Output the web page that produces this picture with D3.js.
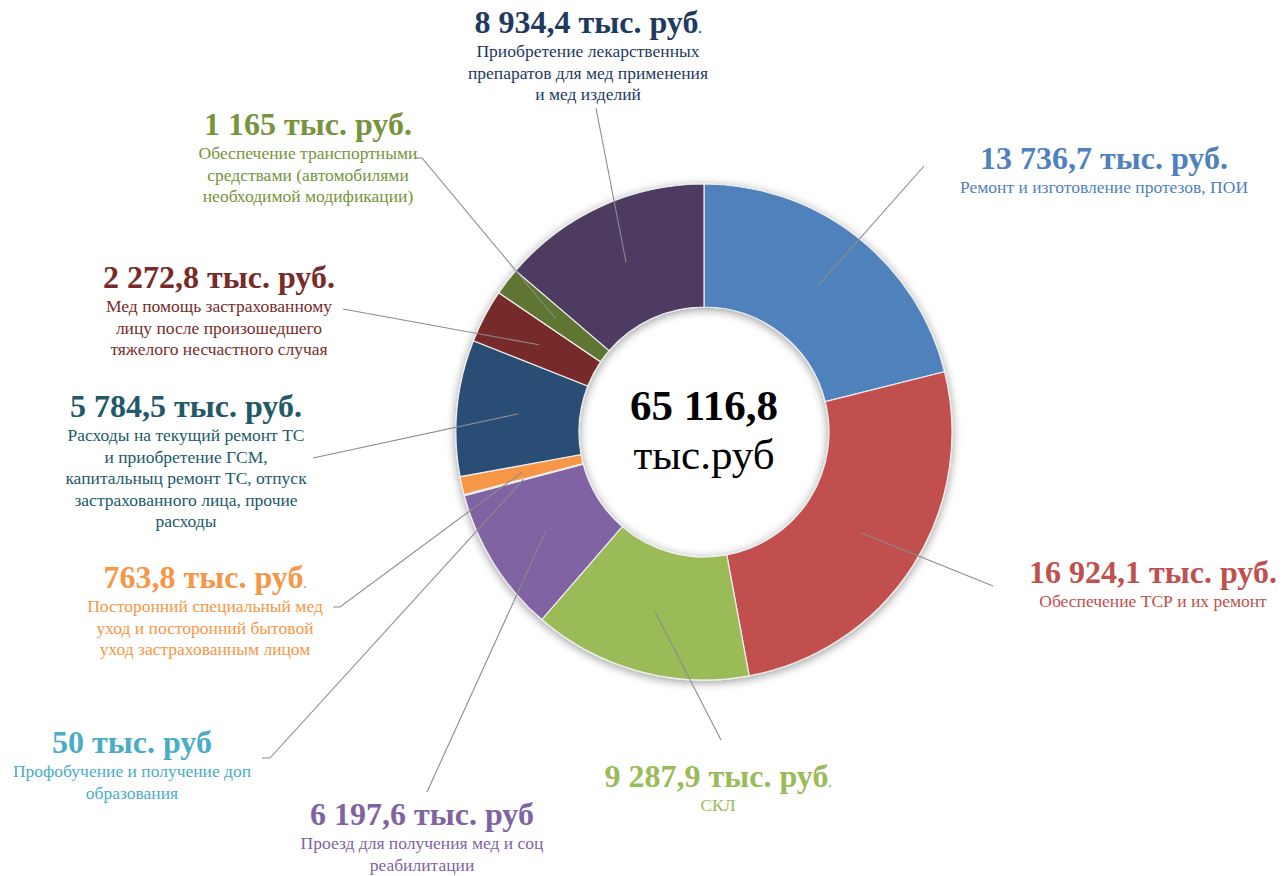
<!DOCTYPE html>
<html>
<head>
<meta charset="utf-8">
<script src="https://cdn.jsdelivr.net/npm/d3@7"></script>
<style>
  body { margin: 0; background: #fff; }
  svg { display: block; }
  svg text { font-family: "Liberation Serif", "DejaVu Serif", serif; }
</style>
</head>
<body>
<div id="chart"></div>
<script>
// slices, clockwise from 12 o'clock
const values = [13736.7, 16924.1, 9287.9, 6197.6, 50, 763.8, 5784.5, 2272.8, 1165, 8934.4];
const valueLabels = ["13 736,7 тыс. руб.", "16 924,1 тыс. руб.", "9 287,9 тыс. руб", "6 197,6 тыс. руб",
  "50 тыс. руб", "763,8 тыс. руб", "5 784,5 тыс. руб.", "2 272,8 тыс. руб.", "1 165 тыс. руб.", "8 934,4 тыс. руб"];
// small trailing dot on some of the value labels
const smallDot = [false, false, true, false, false, true, false, false, false, true];
const categories = [
  ["Ремонт и изготовление протезов, ПОИ"],
  ["Обеспечение ТСР и их ремонт"],
  ["СКЛ"],
  ["Проезд для получения мед и соц", "реабилитации"],
  ["Профобучение и получение доп", "образования"],
  ["Посторонний специальный мед", "уход и посторонний бытовой", "уход застрахованным лицом"],
  ["Расходы на текущий ремонт ТС", "и приобретение ГСМ,", "капитальныц ремонт ТС, отпуск", "застрахованного лица, прочие", "расходы"],
  ["Мед помощь застрахованному", "лицу после произошедшего", "тяжелого несчастного случая"],
  ["Обеспечение транспортными", "средствами (автомобилями", "необходимой модификации)"],
  ["Приобретение лекарственных", "препаратов для мед применения", "и мед изделий"]
];
const totalLabel = "65 116,8";
const unitLabel = "тыс.руб";

const sliceColors = ["#4F81BD", "#C0504D", "#9BBB59", "#8064A2", "#4BACC6", "#F79646", "#2C4D75", "#772C2A", "#5F7530", "#4D3B62"];
const textColors = ["#4F81BD", "#C0504D", "#9BBB59", "#8064A2", "#4BACC6", "#F79646", "#215967", "#772C2A", "#77933C", "#1F3A5F"];

// label layout: centre x, value baseline y, leader end points
const labelPos = [
  {x: 1104, y: 169, line: [[924, 166]]},
  {x: 1153, y: 583, line: [[993, 586]]},
  {x: 718, y: 787, line: [[721, 740]]},
  {x: 422, y: 825, line: [[427, 792]]},
  {x: 132, y: 753, line: [[270, 758], [262, 758]]},
  {x: 205, y: 588, line: [[340, 607], [333, 607]]},
  {x: 186, y: 417, line: [[313, 458]]},
  {x: 219, y: 288, line: [[343, 309]]},
  {x: 308, y: 135, line: [[422, 158], [415, 158]]},
  {x: 588, y: 33, line: [[596, 108]]}
];

const W = 1288, H = 876;
const cx = 704, cy = 432, R = 248, r = 125;

const svg = d3.select("#chart").append("svg")
  .attr("width", W).attr("height", H);

const defs = svg.append("defs");
const f = defs.append("filter").attr("id", "shadow")
  .attr("x", "-20%").attr("y", "-20%").attr("width", "140%").attr("height", "140%");
f.append("feDropShadow").attr("dx", 0).attr("dy", 2).attr("stdDeviation", 5)
  .attr("flood-color", "#000").attr("flood-opacity", 0.4);

const pie = d3.pie().sort(null).value(d => d);
const arcs = pie(values);
const arc = d3.arc().innerRadius(r).outerRadius(R);

const g = svg.append("g").attr("transform", `translate(${cx},${cy})`);

g.append("g").attr("filter", "url(#shadow)")
  .selectAll("path")
  .data(arcs)
  .enter()
  .append("path")
  .attr("d", arc)
  .attr("fill", (d, i) => sliceColors[i])
  .attr("stroke", "#eeeeee")
  .attr("stroke-width", 1.2);

// leader lines
const line = d3.line();
svg.append("g")
  .selectAll("path")
  .data(arcs)
  .enter()
  .append("path")
  .attr("d", (d, i) => {
    const c = arc.centroid(d);
    return line([[cx + c[0], cy + c[1]]].concat(labelPos[i].line));
  })
  .attr("fill", "none")
  .attr("stroke", "#8c8c8c")
  .attr("stroke-width", 1.1);

// labels
const labels = svg.append("g")
  .selectAll("g")
  .data(arcs)
  .enter()
  .append("g")
  .attr("transform", (d, i) => `translate(${labelPos[i].x},${labelPos[i].y})`)
  .attr("fill", (d, i) => textColors[i])
  .attr("text-anchor", "middle");

const vt = labels.append("text")
  .attr("font-size", 32)
  .attr("font-weight", "bold");
vt.append("tspan").text((d, i) => valueLabels[i]);
vt.filter((d, i) => smallDot[i])
  .append("tspan").attr("font-size", 12).text(".");

labels.each(function(d, i) {
  const sel = d3.select(this);
  categories[i].forEach((t, k) => {
    sel.append("text")
      .attr("y", 24 + k * 21.5)
      .attr("font-size", 17.5)
      .text(t);
  });
});

// centre total
g.append("text")
  .attr("text-anchor", "middle")
  .attr("y", -12)
  .attr("font-size", 43)
  .attr("font-weight", "bold")
  .attr("fill", "#000")
  .text(totalLabel);
g.append("text")
  .attr("text-anchor", "middle")
  .attr("y", 37)
  .attr("font-size", 43)
  .attr("fill", "#000")
  .text(unitLabel);
</script>
</body>
</html>
